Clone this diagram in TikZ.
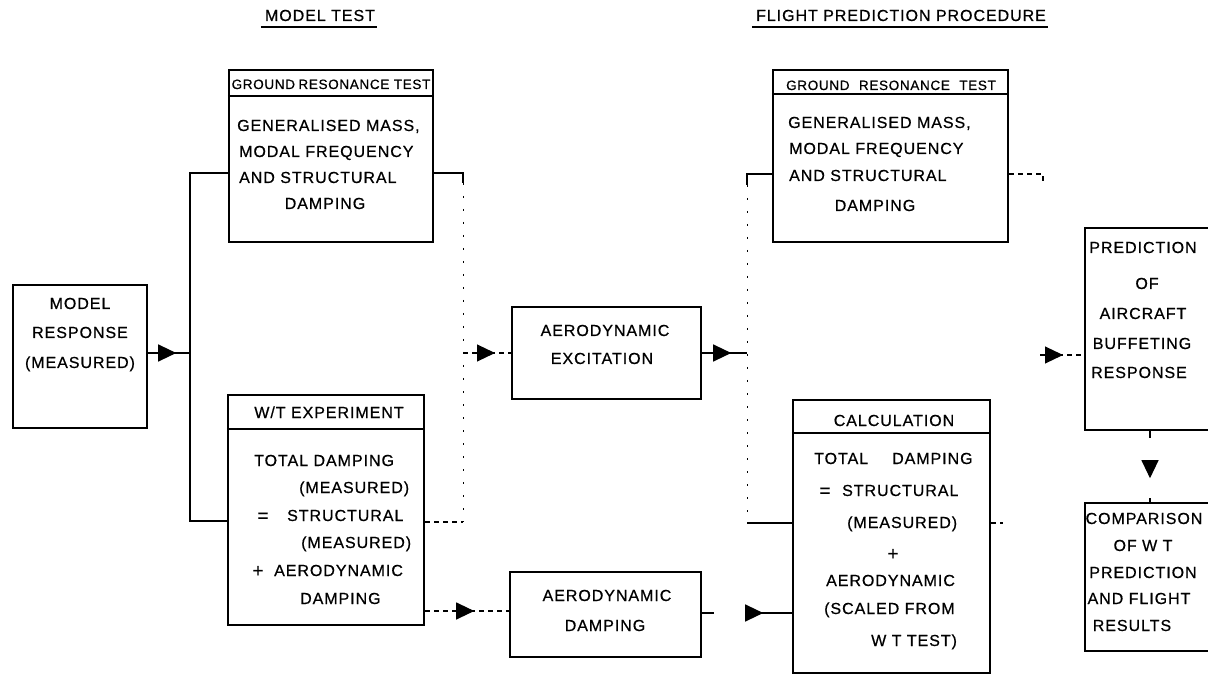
\documentclass[tikz,border=0pt]{standalone}
\usepackage{fontspec}
\newfontfamily\lbl{Liberation Sans}[LetterSpace=6,FakeBold=0.6]
\newfontfamily\lblhead{Liberation Sans}[LetterSpace=5,FakeBold=0.6]
\usetikzlibrary{arrows.meta,decorations.markings,fit}

\begin{document}
\begin{tikzpicture}[x=1pt,y=-1pt,
  box/.style={draw, line width=2.4pt, inner sep=0pt},
  conn/.style={line width=1.2pt},
  faint/.style={line width=1.1pt, dash pattern=on 5pt off 4pt},
  dotty/.style={line width=0.9pt, dash pattern=on 2pt off 11pt},
  txt/.style={inner sep=0pt, font=\lbl\fontsize{16}{19}\selectfont},
  sym/.style={inner sep=0pt, anchor=base, font=\lbl\fontsize{19}{22}\selectfont},
  grthead/.style={inner sep=0pt, anchor=base, font=\lblhead\fontsize{13.5}{16}\selectfont},
  lt/.style={txt, anchor=base west},
  ct/.style={txt, anchor=base},
  tri at/.style={postaction={decorate},
    decoration={markings, mark=at position #1 with {\arrow{Triangle[length=18pt,width=17pt]}}}},
]
\clip (0,0) rectangle (1208,676);
\fill[white] (0,0) rectangle (1208,676);

% column titles
\node[ct] (ttlA) at (320,21) {MODEL TEST};
\node[ct] (ttlB) at (901,21) {FLIGHT PREDICTION PROCEDURE};
\draw[conn] ([xshift=-4pt,yshift=-6pt]ttlA.base west) -- ([xshift=2pt,yshift=-6pt]ttlA.base east);
\draw[conn] ([xshift=-4pt,yshift=-6pt]ttlB.base west) -- ([xshift=2pt,yshift=-6pt]ttlB.base east);

% boxes
\node[box, fit={(13,285) (147,428)}] (mr) {};
\node[box, fit={(229,70) (433,242)}] (grtL) {};
\node[box, fit={(228,395) (424,625)}] (wt) {};
\node[box, fit={(512,307) (701,399)}] (exc) {};
\node[box, fit={(510,572) (701,657)}] (damp) {};
\node[box, fit={(773,70) (1008,242)}] (grtR) {};
\node[box, fit={(793,400) (990,673)}] (calc) {};
\node[box, fit={(1085,228) (1225,430)}] (pred) {};
\node[box, fit={(1085,503) (1225,651)}] (comp) {};

% title bars inside the boxes
\draw[line width=2pt] ([yshift=-27pt]grtL.north west) -- ([yshift=-27pt]grtL.north east);
\draw[line width=2pt] ([yshift=-35pt]wt.north west) -- ([yshift=-35pt]wt.north east);
\draw[line width=2pt] ([yshift=-25pt]grtR.north west) -- ([yshift=-25pt]grtR.north east);
\draw[line width=2pt] ([yshift=-34pt]calc.north west) -- ([yshift=-34pt]calc.north east);

% model response
\node[ct] (mr1) at (80,309) {MODEL};
\node[ct] (mr2) at (80,338) {RESPONSE};
\node[ct] (mr3) at (80,368) {(MEASURED)};

% ground resonance test (model)
\node[grthead] (gl0) at (331,89) {GROUND\hspace{-1pt} RESONANCE TEST};
\node[lt] (gl1) at (237,131) {GENERALISED MASS,};
\node[lt] (gl2) at (239,157) {MODAL FREQUENCY};
\node[lt] (gl3) at (239,183) {AND STRUCTURAL};
\node[ct] (gl4) at (325,209) {DAMPING};

% wind tunnel experiment
\node[ct] (wt0) at (329,418) {W/T EXPERIMENT};
\node[lt] (wt1) at (254,466) {TOTAL DAMPING};
\node[lt] (wt2) at (299,493) {(MEASURED)};
\node[sym] (wt3a) at (263,522) {=};
\node[lt] (wt3b) at (287,521) {STRUCTURAL};
\node[lt] (wt4) at (301,548) {(MEASURED)};
\node[sym] (wt5a) at (258,577) {+};
\node[lt] (wt5b) at (274,576) {AERODYNAMIC};
\node[lt] (wt6) at (300,604) {DAMPING};

% aerodynamic excitation / damping
\node[ct] (ex1) at (605,336) {AERODYNAMIC};
\node[ct] (ex2) at (602,364) {EXCITATION};
\node[ct] (dm1) at (607,601) {AERODYNAMIC};
\node[ct] (dm2) at (605,631) {DAMPING};

% ground resonance test (flight)
\node[grthead] (gr0) at (891,90) {GROUND\hspace{5pt} RESONANCE\hspace{5pt} TEST};
\node[lt] (gr1) at (788,128) {GENERALISED MASS,};
\node[lt] (gr2) at (789,154) {MODAL FREQUENCY};
\node[lt] (gr3) at (789,181) {AND STRUCTURAL};
\node[ct] (gr4) at (875,211) {DAMPING};

% calculation
\node[ct] (cl0) at (894,426) {CALCULATION};
\node[lt] (cl1a) at (814,464) {TOTAL};
\node[lt] (cl1b) at (892,464) {DAMPING};
\node[sym] (cl2a) at (825,497) {=};
\node[lt] (cl2b) at (842,496) {STRUCTURAL};
\node[lt] (cl3) at (847,528) {(MEASURED)};
\node[sym] (cl4) at (893,560) {+};
\node[lt] (cl5) at (826,586) {AERODYNAMIC};
\node[lt] (cl6) at (824,614) {(SCALED FROM};
\node[lt] (cl7) at (871,646) {W T TEST)};

% prediction and comparison
\node[ct] (pr1) at (1143,253) {PREDICTION};
\node[ct] (pr2) at (1147,289) {OF};
\node[ct] (pr3) at (1143,319) {AIRCRAFT};
\node[ct] (pr4) at (1142,349) {BUFFETING};
\node[ct] (pr5) at (1139,378) {RESPONSE};
\node[ct] (cp1) at (1144,524) {COMPARISON};
\node[ct] (cp2) at (1143,551) {OF W T};
\node[ct] (cp3) at (1143,578) {PREDICTION};
\node[ct] (cp4) at (1139,604) {AND FLIGHT};
\node[ct] (cp5) at (1132,631) {RESULTS};

% junction points
\coordinate (jT) at (190,173);
\coordinate (jM) at (190,353);
\coordinate (jB) at (190,521);
\coordinate (sL) at (463,173);
\coordinate (sL2) at (463,183);
\coordinate (vL) at (463,522);
\coordinate (jE) at (463,353);
\coordinate (jF) at (747,353);
\coordinate (sR) at (747,174);
\coordinate (sR2) at (747,185);
\coordinate (vR) at (747,523);
\coordinate (sQ) at (1043,174);
\coordinate (sQ2) at (1043,185);
\coordinate (cQ) at (1003,523);
\coordinate (pQ) at (1040,355);
\coordinate (dQ) at (470,611);
\coordinate (eQ) at (750,613);
\coordinate (vQ) at (1150,460);

% model response feeds both model tests
\draw[conn, tri at=28pt] (mr.east |- jM) -- (jM);
\draw[conn] (grtL.west |- jT) -- (jT) -- (jB) -- (wt.west |- jB);

% model tests feed aerodynamic excitation
\draw[conn] (grtL.east |- sL) -- (sL) -- (sL2);
\draw[dotty] (sL2) -- (vL);
\draw[faint] (wt.east |- vL) -- (vL);
\draw[faint, tri at=32pt] (jE) -- (exc.west |- jE);

% aerodynamic excitation and flight ground test feed the calculation
\draw[conn, tri at=29pt] (exc.east |- jF) -- (jF);
\draw[conn] (grtR.west |- sR) -- (sR) -- (sR2);
\draw[dotty] (sR2) -- (vR);
\draw[conn] (vR) -- (calc.west |- vR);

% into the buffeting prediction
\draw[faint] (grtR.east |- sQ) -- (sQ) -- (sQ2);
\draw[faint] (calc.east |- cQ) -- (cQ);
\draw[faint, tri at=23pt] (pQ) -- (pred.west |- pQ);

% aerodynamic damping path
\draw[faint, tri at=49pt] (wt.east |- dQ) -- (damp.west |- dQ);
\draw[conn, dash pattern=on 12pt off 32pt on 60pt, tri at=61pt] (damp.east |- eQ) -- (calc.west |- eQ);

% prediction to comparison
\draw[conn, dash pattern=on 7pt off 60pt on 30pt, tri at=47pt] (pred.south -| vQ) -- (comp.north -| vQ);
\end{tikzpicture}
\end{document}
